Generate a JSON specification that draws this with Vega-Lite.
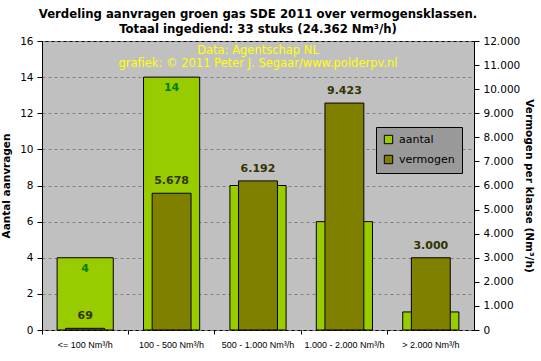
{
  "$schema": "https://vega.github.io/schema/vega-lite/v6.json",
  "autosize": "none",
  "width": 432,
  "height": 289,
  "padding": {"left": 42, "top": 41, "right": 67, "bottom": 31},
  "background": "white",
  "title": {
    "text": ["Verdeling aanvragen groen gas SDE 2011 over vermogensklassen.", "Totaal ingediend: 33 stuks (24.362 Nm³/h)"],
    "font": "DejaVu Sans",
    "fontSize": 11.7,
    "fontWeight": "bold",
    "color": "black",
    "anchor": "middle",
    "frame": "group",
    "offset": 0,
    "lineHeight": 15
  },
  "config": {
    "locale": {"number": {"decimal": ",", "thousands": ".", "grouping": [3], "currency": ["€", ""]}},
    "view": {"fill": "#C0C0C0", "stroke": "black", "strokeWidth": 1},
    "axis": {
      "domainColor": "black",
      "tickColor": "black",
      "labelColor": "black",
      "titleColor": "black",
      "labelFont": "DejaVu Sans",
      "titleFont": "DejaVu Sans",
      "labelFontSize": 10.5,
      "titleFontSize": 10.5,
      "titleFontWeight": "bold"
    },
    "legend": {
      "orient": "none",
      "legendX": 334,
      "legendY": 86,
      "fillColor": "#999999",
      "strokeColor": "black",
      "padding": 7,
      "symbolType": "square",
      "symbolSize": 70,
      "symbolStrokeColor": "black",
      "symbolStrokeWidth": 1,
      "labelFont": "DejaVu Sans",
      "labelFontSize": 11,
      "labelColor": "black",
      "rowPadding": 7,
      "labelOffset": 5
    }
  },
  "data": {
    "values": [
      {"klasse": "<= 100 Nm³/h", "aantal": 4, "vermogen": 69},
      {"klasse": "100 - 500 Nm³/h", "aantal": 14, "vermogen": 5678},
      {"klasse": "500 - 1.000 Nm³/h", "aantal": 8, "vermogen": 6192},
      {"klasse": "1.000 - 2.000 Nm³/h", "aantal": 6, "vermogen": 9423},
      {"klasse": "> 2.000 Nm³/h", "aantal": 1, "vermogen": 3000}
    ]
  },
  "encoding": {
    "x": {
      "field": "klasse",
      "type": "nominal",
      "sort": null,
      "scale": {"paddingInner": 0, "paddingOuter": 0},
      "axis": {
        "title": null,
        "labelAngle": 0,
        "labelFont": "Liberation Sans",
        "labelFontSize": 9,
        "bandPosition": 0,
        "tickSize": 4,
        "labelPadding": 6,
        "domain": false
      }
    }
  },
  "layer": [
    {
      "encoding": {
        "y": {
          "field": "aantal",
          "type": "quantitative",
          "scale": {"domain": [0, 16], "nice": false},
          "axis": {
            "title": "Aantal aanvragen",
            "values": [0, 2, 4, 6, 8, 10, 12, 14, 16],
            "grid": true,
            "gridColor": "#808080",
            "gridDash": [3, 3],
            "gridWidth": 1,
            "tickSize": 5,
            "labelPadding": 4,
            "titlePadding": 8
          }
        }
      },
      "layer": [
        {
          "mark": {"type": "bar", "width": {"band": 0.65}, "stroke": "black", "strokeWidth": 1},
          "encoding": {
            "color": {
              "datum": "aantal",
              "type": "nominal",
              "scale": {"domain": ["aantal", "vermogen"], "range": ["#99CC00", "#808000"]},
              "legend": {"title": null}
            }
          }
        },
        {
          "mark": {"type": "text", "font": "DejaVu Sans", "fontSize": 11, "fontWeight": "bold", "color": "#008000", "baseline": "middle", "dy": 11},
          "encoding": {"text": {"field": "aantal", "type": "quantitative"}}
        },
        {
          "transform": [{"filter": "datum.klasse === '500 - 1.000 Nm³/h'"}],
          "mark": {"type": "text", "font": "DejaVu Sans", "fontSize": 11.5, "fill": "#FFFF00", "baseline": "top", "lineHeight": 13, "dy": 4,
            "text": ["Data: Agentschap NL", "grafiek: © 2011 Peter J. Segaar/www.polderpv.nl"]},
          "encoding": {"y": {"datum": 16, "type": "quantitative"}}
        }
      ]
    },
    {
      "encoding": {
        "y": {
          "field": "vermogen",
          "type": "quantitative",
          "scale": {"domain": [0, 12000], "nice": false},
          "axis": {
            "orient": "right",
            "title": "Vermogen per klasse (Nm³/h)",
            "titleAngle": 90,
            "values": [0, 1000, 2000, 3000, 4000, 5000, 6000, 7000, 8000, 9000, 10000, 11000, 12000],
            "format": ",d",
            "grid": false,
            "tickSize": 5,
            "labelPadding": 4,
            "titlePadding": 4
          }
        }
      },
      "layer": [
        {
          "mark": {"type": "bar", "width": {"band": 0.45}, "stroke": "black", "strokeWidth": 1},
          "encoding": {
            "color": {"datum": "vermogen", "type": "nominal"}
          }
        },
        {
          "mark": {"type": "text", "font": "DejaVu Sans", "fontSize": 11, "fontWeight": "bold", "color": "#333300", "baseline": "middle", "dy": -12},
          "encoding": {"text": {"field": "vermogen", "type": "quantitative", "format": ",d"}}
        }
      ]
    }
  ],
  "resolve": {"scale": {"y": "independent"}}
}
